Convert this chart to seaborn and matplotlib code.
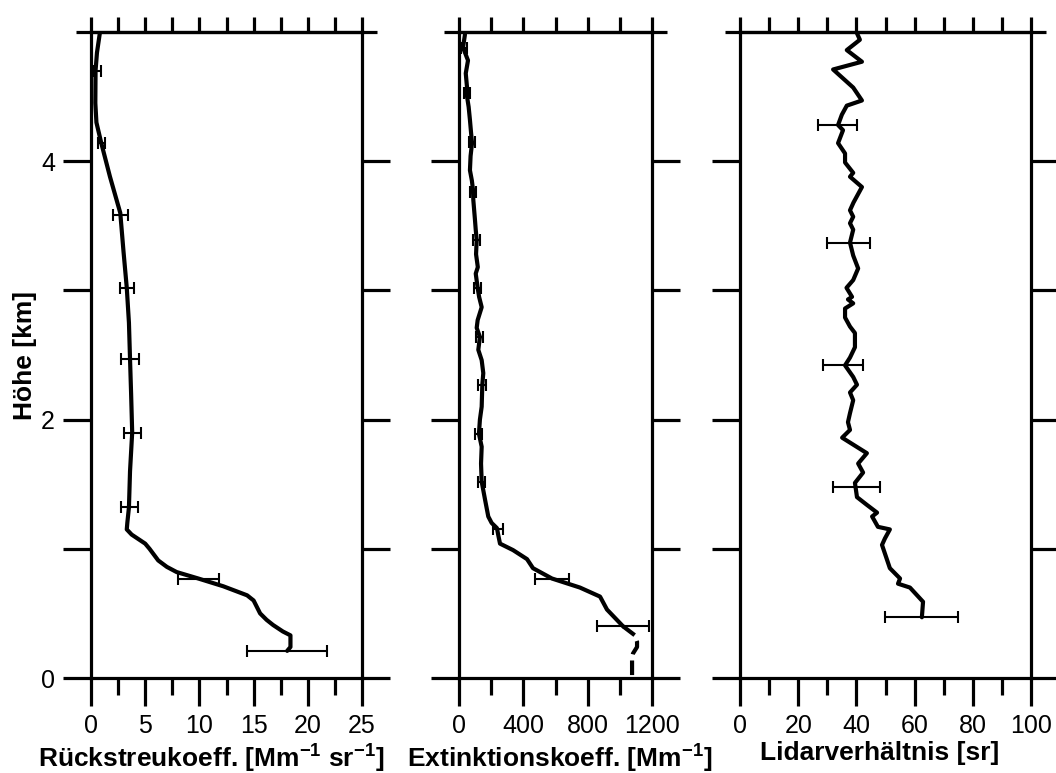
import numpy as np
import pandas as pd
import matplotlib
matplotlib.use("Agg")
import matplotlib.pyplot as plt
from matplotlib.ticker import MultipleLocator, FixedLocator
import seaborn as sns

# ---- backscatter coefficient profile [Mm-1 sr-1] ----
bsc_height = [5.00, 4.84, 4.70, 4.45, 4.30, 4.14, 3.88, 3.60, 3.45, 3.30, 3.02,
              2.75, 2.47, 2.20, 1.90, 1.60, 1.32, 1.20, 1.15, 1.11, 1.04, 1.00,
              0.91, 0.86, 0.82, 0.77, 0.71, 0.64, 0.60, 0.50, 0.45, 0.41, 0.36,
              0.33, 0.24, 0.21]
bsc_value = [0.83, 0.55, 0.42, 0.40, 0.50, 0.95, 1.75, 2.70, 2.85, 3.00, 3.30,
             3.50, 3.60, 3.70, 3.80, 3.60, 3.50, 3.35, 3.30, 3.75, 5.00, 5.40,
             6.20, 7.00, 7.90, 9.90, 12.2, 14.4, 15.0, 15.6, 16.2, 16.8, 17.7,
             18.4, 18.4, 18.1]
bsc_err_height = [4.70, 4.14, 3.58, 3.02, 2.47, 1.90, 1.32, 0.77, 0.21]
bsc_err_center = [0.60, 0.95, 2.70, 3.30, 3.60, 3.80, 3.55, 9.90, 18.1]
bsc_err = [0.30, 0.30, 0.70, 0.65, 0.80, 0.80, 0.75, 1.90, 3.70]

# ---- extinction coefficient profile [Mm-1] ----
ext_height = [4.98, 4.88, 4.78, 4.68, 4.57, 4.50, 4.42, 4.32, 4.22, 4.14, 4.04,
              3.93, 3.85, 3.78, 3.70, 3.55, 3.47, 3.39, 3.28, 3.18, 3.13, 3.02,
              2.95, 2.87, 2.77, 2.71, 2.64, 2.54, 2.46, 2.36, 2.27, 2.10, 2.00,
              1.89, 1.79, 1.66, 1.52, 1.38, 1.25, 1.20, 1.16, 1.10, 1.04, 0.99,
              0.92, 0.85, 0.77, 0.70, 0.63, 0.53, 0.40]
ext_value = [37, 25, 56, 42, 50, 50, 60, 68, 75, 81, 72,
             68, 80, 87, 89, 99, 104, 110, 106, 117, 104, 116,
             125, 141, 116, 110, 130, 120, 141, 151, 145, 141, 130,
             124, 141, 137, 141, 162, 182, 203, 236, 245, 255, 336,
             423, 460, 578, 752, 877, 920, 1020]
# lowest part, drawn dashed
ext_low_height = [0.40, 0.33, 0.28, 0.24, 0.19, 0.16, 0.00]
ext_low_value = [1020, 1094, 1107, 1107, 1082, 1076, 1076]
ext_err_height = [4.88, 4.53, 4.15, 3.76, 3.39, 3.02, 2.64, 2.27, 1.89, 1.52, 1.15, 0.77, 0.40]
ext_err_center = [30, 50, 81, 87, 110, 116, 130, 145, 124, 141, 240, 578, 1020]
ext_err = [18, 18, 18, 20, 22, 22, 22, 25, 22, 22, 31, 105, 162]

# ---- lidar ratio profile [sr] ----
lr_height = [4.99, 4.94, 4.86, 4.77, 4.71, 4.57, 4.47, 4.43, 4.36, 4.28, 4.24,
             4.14, 4.06, 3.99, 3.91, 3.88, 3.80, 3.68, 3.62, 3.57, 3.52, 3.47,
             3.37, 3.27, 3.17, 3.08, 3.02, 2.95, 2.93, 2.90, 2.86, 2.79, 2.72,
             2.67, 2.56, 2.48, 2.42, 2.33, 2.27, 2.21, 2.15, 2.05, 1.98, 1.92,
             1.86, 1.74, 1.66, 1.59, 1.51, 1.40, 1.34, 1.28, 1.25, 1.17, 1.15,
             1.08, 1.03, 0.85, 0.77, 0.73, 0.70, 0.59, 0.47]
lr_value = [40.2, 41.2, 36.7, 41.9, 32.0, 38.9, 41.9, 36.7, 35.0, 33.7, 35.4,
            33.7, 36.1, 36.1, 38.9, 37.8, 41.9, 39.0, 37.8, 38.9, 37.8, 38.9,
            37.8, 38.9, 40.6, 38.9, 36.6, 38.5, 37.1, 38.9, 36.1, 36.1, 37.8,
            39.5, 39.5, 37.8, 36.1, 38.9, 40.2, 37.8, 38.9, 37.8, 37.1, 37.8,
            35.1, 43.6, 40.6, 42.3, 39.5, 40.2, 43.6, 47.1, 45.4, 47.4, 51.5,
            49.8, 48.8, 51.5, 55.0, 54.3, 58.4, 62.9, 62.5]
lr_err_height = [4.28, 3.37, 2.42, 1.48, 0.47]
lr_err_center = [33.5, 37.3, 35.4, 40.0, 62.4]
lr_err = [6.7, 7.4, 6.9, 8.0, 12.5]

height_ticks = [0, 1, 2, 3, 4]
height_ticklabels = ["0", "", "2", "", "4"]

sns.set_theme(style="ticks")
plt.rcParams.update({
    "font.family": ["Liberation Sans", "DejaVu Sans"],
    "mathtext.fontset": "custom",
    "mathtext.rm": "Liberation Sans",
    "mathtext.bf": "Liberation Sans:bold",
    "text.color": "black",
    "axes.labelcolor": "black",
    "xtick.color": "black",
    "ytick.color": "black",
    "axes.edgecolor": "black",
})

W, H = 1056, 773
fig = plt.figure(figsize=(W / 100, H / 100), dpi=100)

LW_SPINE = 2.3
LW_CURVE = 3.0
TICK_FS = 18
LABEL_FS = 19


def make_axes(left_px, right_px):
    top_px, bot_px = 32, 678
    return fig.add_axes([left_px / W, 1 - bot_px / H,
                         (right_px - left_px) / W, (bot_px - top_px) / H])


def style_axes(ax, xmax, major, minor, top_step, show_ylabels):
    ax.set_xlim(0, xmax)
    ax.set_ylim(0, 5)
    for s in ax.spines.values():
        s.set_linewidth(LW_SPINE)
        s.set_visible(True)
    ax.xaxis.set_major_locator(MultipleLocator(major))
    ax.xaxis.set_minor_locator(MultipleLocator(minor))
    ax.tick_params(axis="x", which="major", direction="out", length=20,
                   width=LW_SPINE, labelsize=TICK_FS, pad=6, top=False, bottom=True)
    ax.tick_params(axis="x", which="minor", direction="out", length=12,
                   width=LW_SPINE, top=False, bottom=True)
    ax.set_yticks(height_ticks)
    ax.yaxis.set_minor_locator(FixedLocator([5]))
    ax.tick_params(axis="y", which="major", direction="out", length=20,
                   width=LW_SPINE, left=True, right=True, labelsize=TICK_FS, pad=6)
    ax.tick_params(axis="y", which="minor", direction="out", length=11,
                   width=LW_SPINE, left=True, right=True)
    if show_ylabels:
        ax.set_yticklabels(height_ticklabels)
    else:
        ax.set_yticklabels([])
    # short ticks along the upper edge
    top = ax.secondary_xaxis("top")
    top.set_xticks(np.arange(0, xmax + top_step / 2, top_step))
    top.tick_params(axis="x", direction="out", length=11, width=LW_SPINE,
                    labeltop=False)
    top.spines["top"].set_linewidth(LW_SPINE)


def draw_profile(ax, x, y, **kw):
    df = pd.DataFrame({"value": x, "height": y})
    sns.lineplot(data=df, x="value", y="height", sort=False, estimator=None,
                 orient="y", color="black", linewidth=LW_CURVE, ax=ax, **kw)


def draw_errors(ax, x, y, xe):
    ax.errorbar(x, y, xerr=xe, fmt="none", ecolor="black", elinewidth=1.5,
                capsize=4, capthick=1.5, zorder=3)


# Backscatter
ax1 = make_axes(91, 362)
draw_profile(ax1, bsc_value, bsc_height)
draw_errors(ax1, bsc_err_center, bsc_err_height, bsc_err)
style_axes(ax1, 25, 5, 2.5, 2.5, True)
ax1.set_ylabel("Höhe [km]", fontsize=LABEL_FS, fontweight="bold")
ax1.yaxis.set_label_coords(-0.200, 0.5)
ax1.set_xlabel(r"Rückstreukoeff. [Mm$^{\mathbf{-1}}$ sr$^{\mathbf{-1}}$]",
               fontsize=LABEL_FS, fontweight="bold")
ax1.xaxis.set_label_coords(0.443, -0.097)

# Extinction
ax2 = make_axes(459, 652)
draw_profile(ax2, ext_value, ext_height)
draw_profile(ax2, ext_low_value, ext_low_height, linestyle=(0, (3.5, 1.5)))
draw_errors(ax2, ext_err_center, ext_err_height, ext_err)
style_axes(ax2, 1200, 400, 200, 200, False)
ax2.set_ylabel("")
ax2.set_xlabel(r"Extinktionskoeff. [Mm$^{\mathbf{-1}}$]",
               fontsize=LABEL_FS, fontweight="bold")
ax2.xaxis.set_label_coords(0.523, -0.097)

# Lidar ratio
ax3 = make_axes(740, 1031)
draw_profile(ax3, lr_value, lr_height)
draw_errors(ax3, lr_err_center, lr_err_height, lr_err)
style_axes(ax3, 100, 20, 10, 10, False)
ax3.set_ylabel("")
ax3.set_xlabel("Lidarverhältnis [sr]", fontsize=LABEL_FS, fontweight="bold")
ax3.xaxis.set_label_coords(0.481, -0.097)

fig.savefig("out.png", dpi=100, facecolor="white")
